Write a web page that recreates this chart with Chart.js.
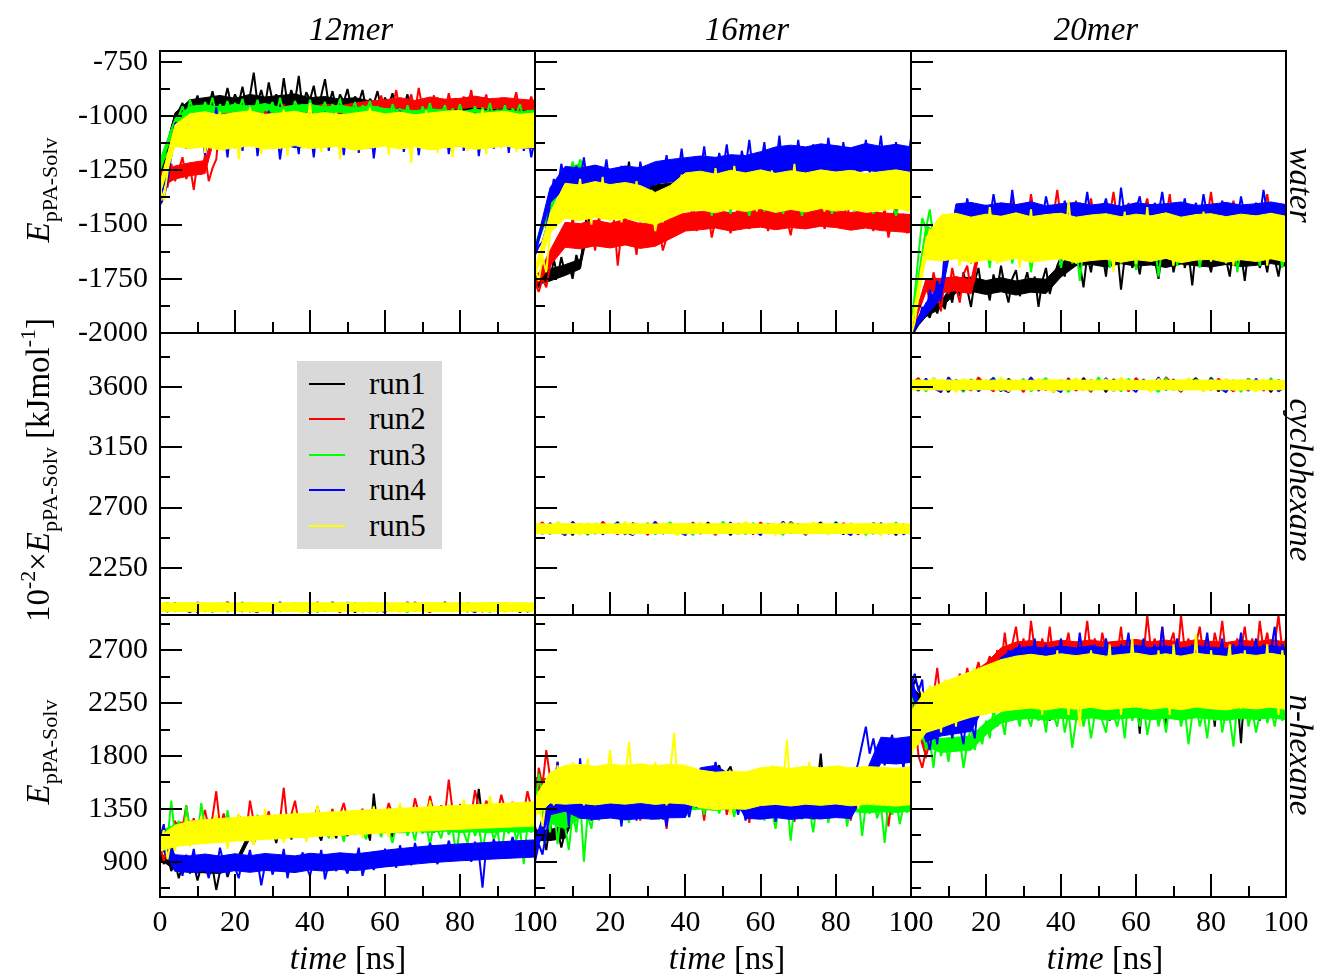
<!DOCTYPE html>
<html>
<head>
<meta charset="utf-8">
<title>pPA–solvent interaction energy</title>
<script src="https://cdn.jsdelivr.net/npm/chart.js@4.4.1/dist/chart.umd.min.js"></script>
<style>
  html, body { margin: 0; padding: 0; background: #fff; }
  #wrap { position: relative; width: 1323px; height: 976px; overflow: hidden;
          font-family: "Liberation Serif", "Times New Roman", serif; color: #000; }
  #wrap canvas { position: absolute; left: 0; top: 0; }
  .txt { position: absolute; white-space: nowrap; line-height: 1; font-size: 33px;
         transform: translate(-50%, -50%); }
  .it { font-style: italic; }
  .up { transform: translate(-50%, -50%) rotate(-90deg); }
  .down { transform: translate(-50%, -50%) rotate(90deg); }
  .sb { font-size: 22px; position: relative; top: 8px; }
  .sp { font-size: 22px; position: relative; top: -14px; }
  #legend { position: absolute; left: 297px; top: 361px; width: 145px; height: 188px;
            background: #d9d9d9; }
  #legend .row { position: absolute; left: 0; height: 36px; width: 145px; }
  #legend .key { position: absolute; left: 12px; top: 17px; width: 36px; height: 2px; }
  #legend .name { position: absolute; left: 72px; top: 0; font-size: 31px; line-height: 36px; }
</style>
</head>
<body>
<div id="wrap"></div>
<script>
// ---- labels and axes ----
const runNames = ['run1', 'run2', 'run3', 'run4', 'run5'];
const runColors = ['#000000', '#ff0000', '#00ff00', '#0000ff', '#ffff00'];
const oligomers = ['12mer', '16mer', '20mer'];
const solvents = ['water', 'cyclohexane', 'n-hexane'];
const timeTicks = [0, 20, 40, 60, 80, 100];
const waterTicks = [-2000, -1750, -1500, -1250, -1000, -750];
const cyclohexaneTicks = [2250, 2700, 3150, 3600];
const hexaneTicks = [900, 1350, 1800, 2250, 2700];
const waterRange = [-2000, -700];
const cyclohexaneRange = [1900, 4000];
const hexaneRange = [600, 3000];
const bandStepNs = 4;   // spacing of the fluctuation-band arrays (lo/hi)

// ---- water, E(pPA-Solv) in kJ/mol, sampled every 1 ns ----
const water12_run1 = [-1310,-1230,-1140,-1060,-1000,-975,-940,-985,-925,-960,
 -905,-970,-930,-955,-885,-960,-915,-945,-870,-950,
 -900,-940,-865,-955,-905,-800,-940,-880,-950,-845,
 -930,-900,-960,-825,-945,-880,-935,-815,-960,-890,
 -925,-860,-955,-905,-830,-950,-885,-965,-900,-935,
 -875,-960,-910,-940,-880,-970,-920,-945,-885,-965,
 -915,-950,-895,-975,-930,-955,-900,-980,-935,-960,
 -925,-990,-945,-965,-915,-985,-950,-970,-930,-995,
 -955,-975,-925,-1000,-950,-970,-935,-990,-955,-965,
 -940,-1005,-960,-980,-945,-995,-965,-985,-950,-1010,-975];
const water12_run2 = [-1360,-1280,-1330,-1220,-1300,-1250,-1190,-1290,-1230,-1340,
 -1210,-1270,-1180,-1300,-1240,-1200,-1020,-960,-1030,-975,
 -1005,-950,-1040,-985,-960,-1020,-945,-1000,-975,-1035,
 -955,-1010,-980,-945,-1025,-970,-1000,-950,-1030,-965,
 -990,-955,-1020,-975,-945,-1010,-980,-1000,-950,-1025,
 -960,-995,-940,-1015,-970,-990,-935,-1000,-960,-905,
 -985,-930,-960,-880,-990,-925,-955,-900,-980,-870,
 -965,-920,-995,-905,-950,-935,-985,-895,-970,-940,
 -990,-910,-960,-880,-985,-930,-965,-900,-995,-940,
 -960,-915,-985,-925,-955,-890,-990,-935,-965,-910,-975];
const water12_run3 = [-1250,-1200,-1170,-1190,-1080,-1000,-955,-1010,-925,-985,
 -950,-1005,-935,-975,-915,-995,-945,-980,-930,-1010,
 -940,-975,-920,-1000,-955,-985,-925,-1005,-950,-970,
 -935,-995,-915,-985,-960,-1000,-930,-975,-945,-1010,
 -925,-990,-955,-970,-935,-1005,-945,-980,-920,-995,
 -960,-985,-935,-1010,-950,-975,-930,-1000,-955,-990,
 -970,-1015,-945,-995,-965,-1020,-950,-1005,-975,-1030,
 -955,-1000,-940,-1015,-970,-990,-950,-1025,-965,-1005,
 -945,-1010,-975,-995,-955,-1030,-960,-1000,-940,-1020,
 -970,-1005,-950,-1025,-965,-990,-945,-1015,-975,-1000,-985];
const water12_run4 = [-1410,-1380,-1300,-1180,-1040,-1110,-1020,-1150,-1060,-990,
 -1120,-1040,-1180,-1010,-1095,-960,-1140,-1050,-1190,-1030,
 -1100,-985,-1160,-1045,-1120,-1000,-1185,-1060,-1110,-975,
 -1150,-1035,-1200,-1070,-1010,-1140,-1055,-1175,-995,-1115,
 -1050,-1190,-1030,-1130,-980,-1160,-1065,-1105,-1010,-1180,
 -1045,-1125,-990,-1170,-1055,-1100,-1020,-1195,-1060,-1135,
 -1005,-1150,-1040,-1110,-975,-1165,-1075,-1120,-1025,-1180,
 -1050,-1100,-995,-1155,-1035,-1130,-1010,-1175,-1065,-1115,
 -1000,-1160,-1045,-1125,-985,-1185,-1055,-1105,-1020,-1150,
 -1060,-1120,-1005,-1170,-1040,-1135,-1015,-1160,-1070,-1190,-1100];
const water12_run5 = [-1330,-1390,-1260,-1140,-1100,-1030,-1120,-1000,-1150,-1040,
 -1110,-990,-1170,-1020,-1130,-1060,-980,-1160,-1045,-1105,
 -1000,-1200,-1050,-1125,-960,-1090,-1015,-1175,-1035,-1140,
 -995,-1115,-1060,-970,-1185,-1030,-1120,-1005,-1150,-1070,
 -940,-1110,-1025,-1165,-1000,-1135,-1055,-985,-1200,-1040,
 -1100,-990,-1155,-1030,-1120,-1065,-960,-1140,-1015,-1095,
 -1005,-1180,-1045,-1125,-980,-1150,-1035,-1215,-1010,-1110,
 -1060,-975,-1145,-1020,-1170,-1040,-1100,-995,-1190,-1050,
 -1125,-985,-1160,-1025,-1105,-1065,-970,-1175,-1030,-1135,
 -1000,-1150,-1045,-1115,-990,-1165,-1020,-1130,-1055,-1010,-1120];

const water16_run1 = [-1720,-1790,-1740,-1700,-1760,-1660,-1740,-1650,-1730,-1680,
 -1750,-1640,-1700,-1560,-1420,-1330,-1400,-1290,-1370,-1310,
 -1420,-1340,-1280,-1390,-1320,-1210,-1360,-1290,-1430,-1330,
 -1270,-1470,-1350,-1300,-1390,-1320,-1400,-1280,-1360,-1230,
 -1380,-1310,-1420,-1340,-1290,-1390,-1330,-1270,-1410,-1350,
 -1300,-1370,-1250,-1330,-1390,-1290,-1240,-1350,-1310,-1400,
 -1330,-1280,-1380,-1320,-1420,-1300,-1360,-1260,-1340,-1290,
 -1390,-1330,-1280,-1370,-1310,-1250,-1350,-1300,-1470,-1340,
 -1290,-1380,-1320,-1270,-1360,-1305,-1400,-1330,-1280,-1350,
 -1300,-1390,-1320,-1270,-1360,-1310,-1240,-1340,-1300,-1370,-1320];
const water16_run2 = [-1770,-1810,-1750,-1790,-1690,-1640,-1560,-1620,-1500,-1590,
 -1470,-1560,-1610,-1490,-1580,-1520,-1620,-1460,-1570,-1510,
 -1600,-1480,-1690,-1530,-1450,-1590,-1520,-1640,-1490,-1560,
 -1600,-1470,-1580,-1510,-1620,-1560,-1450,-1500,-1430,-1520,
 -1460,-1490,-1410,-1530,-1470,-1500,-1440,-1560,-1480,-1420,
 -1510,-1460,-1540,-1470,-1430,-1500,-1450,-1520,-1480,-1410,
 -1500,-1460,-1530,-1440,-1490,-1420,-1510,-1470,-1550,-1450,
 -1490,-1420,-1510,-1460,-1400,-1480,-1440,-1520,-1460,-1410,
 -1490,-1430,-1470,-1400,-1510,-1450,-1480,-1420,-1500,-1460,
 -1530,-1440,-1490,-1430,-1560,-1470,-1420,-1500,-1450,-1540,-1480];
const water16_run3 = [-1620,-1560,-1500,-1470,-1420,-1380,-1330,-1300,-1250,-1290,
 -1210,-1270,-1200,-1240,-1310,-1360,-1420,-1340,-1400,-1310,
 -1440,-1370,-1330,-1410,-1350,-1450,-1380,-1320,-1420,-1360,
 -1430,-1340,-1400,-1460,-1370,-1420,-1330,-1390,-1450,-1360,
 -1410,-1350,-1440,-1380,-1330,-1420,-1370,-1460,-1390,-1340,
 -1410,-1370,-1450,-1360,-1420,-1330,-1400,-1460,-1380,-1420,
 -1350,-1440,-1390,-1320,-1410,-1370,-1450,-1390,-1340,-1420,
 -1380,-1460,-1400,-1350,-1430,-1370,-1420,-1330,-1400,-1450,
 -1380,-1430,-1360,-1410,-1340,-1440,-1390,-1350,-1420,-1380,
 -1450,-1370,-1410,-1340,-1430,-1390,-1460,-1400,-1350,-1420,-1390];
const water16_run4 = [-1640,-1600,-1580,-1520,-1400,-1290,-1340,-1220,-1310,-1260,
 -1350,-1230,-1300,-1190,-1320,-1270,-1340,-1240,-1310,-1200,
 -1330,-1260,-1350,-1230,-1290,-1330,-1250,-1360,-1210,-1300,
 -1370,-1260,-1320,-1220,-1280,-1180,-1300,-1240,-1270,-1150,
 -1290,-1220,-1310,-1200,-1260,-1140,-1280,-1210,-1300,-1170,
 -1250,-1130,-1270,-1200,-1290,-1160,-1240,-1110,-1260,-1190,
 -1230,-1120,-1280,-1170,-1240,-1090,-1270,-1200,-1150,-1250,
 -1110,-1230,-1180,-1290,-1130,-1220,-1160,-1260,-1100,-1210,
 -1170,-1280,-1120,-1240,-1190,-1300,-1140,-1230,-1110,-1260,
 -1170,-1220,-1090,-1250,-1150,-1290,-1120,-1200,-1160,-1240,-1100];
const water16_run5 = [-1700,-1760,-1650,-1720,-1540,-1420,-1480,-1350,-1450,-1320,
 -1470,-1380,-1290,-1440,-1360,-1500,-1330,-1410,-1280,-1460,
 -1370,-1430,-1310,-1490,-1390,-1340,-1460,-1300,-1420,-1370,
 -1480,-1400,-1530,-1430,-1490,-1360,-1440,-1320,-1400,-1270,
 -1380,-1310,-1420,-1260,-1350,-1430,-1300,-1390,-1240,-1360,
 -1420,-1290,-1370,-1230,-1340,-1410,-1280,-1380,-1310,-1440,
 -1270,-1350,-1400,-1250,-1370,-1320,-1430,-1280,-1360,-1220,
 -1390,-1300,-1420,-1340,-1260,-1380,-1310,-1440,-1290,-1350,
 -1410,-1270,-1370,-1320,-1430,-1250,-1360,-1300,-1400,-1340,
 -1280,-1420,-1330,-1380,-1260,-1350,-1410,-1300,-1370,-1440,-1330];

const water20_run1 = [-2010,-1990,-1960,-1940,-1900,-1930,-1870,-1910,-1840,-1890,
 -1800,-1860,-1750,-1830,-1720,-1800,-1880,-1760,-1700,-1820,
 -1770,-1850,-1730,-1800,-1690,-1790,-1860,-1750,-1710,-1830,
 -1780,-1720,-1810,-1740,-1880,-1760,-1700,-1820,-1750,-1690,
 -1650,-1740,-1620,-1700,-1580,-1680,-1790,-1640,-1720,-1600,
 -1690,-1630,-1740,-1580,-1670,-1620,-1800,-1650,-1590,-1700,
 -1640,-1730,-1610,-1680,-1560,-1660,-1750,-1620,-1690,-1600,
 -1720,-1640,-1580,-1700,-1630,-1780,-1610,-1680,-1570,-1650,
 -1720,-1620,-1690,-1590,-1660,-1740,-1600,-1680,-1630,-1760,
 -1610,-1670,-1580,-1700,-1640,-1720,-1600,-1660,-1740,-1630,-1680];
const water20_run2 = [-2010,-1960,-1880,-1830,-1780,-1850,-1720,-1800,-1900,-1740,
 -1820,-1700,-1790,-1860,-1730,-1690,-1810,-1750,-1540,-1470,
 -1520,-1430,-1500,-1400,-1480,-1530,-1450,-1380,-1510,-1460,
 -1420,-1490,-1360,-1470,-1530,-1440,-1500,-1410,-1460,-1340,
 -1480,-1420,-1510,-1450,-1390,-1500,-1430,-1470,-1380,-1490,
 -1440,-1520,-1410,-1460,-1350,-1480,-1430,-1500,-1400,-1470,
 -1420,-1510,-1440,-1380,-1490,-1450,-1530,-1420,-1470,-1360,
 -1500,-1440,-1480,-1400,-1460,-1520,-1430,-1490,-1410,-1470,
 -1350,-1480,-1440,-1500,-1420,-1460,-1390,-1490,-1450,-1510,
 -1430,-1470,-1400,-1490,-1440,-1360,-1480,-1420,-1500,-1450,-1470];
const water20_run3 = [-1990,-1820,-1640,-1470,-1520,-1430,-1560,-1480,-1600,-1520,
 -1650,-1540,-1600,-1480,-1620,-1550,-1680,-1570,-1510,-1640,
 -1580,-1700,-1560,-1620,-1500,-1610,-1540,-1680,-1590,-1530,
 -1650,-1560,-1720,-1600,-1540,-1660,-1580,-1510,-1640,-1570,
 -1700,-1600,-1550,-1680,-1590,-1760,-1610,-1540,-1660,-1580,
 -1520,-1640,-1570,-1700,-1600,-1530,-1680,-1590,-1620,-1550,
 -1710,-1580,-1640,-1520,-1660,-1590,-1740,-1600,-1550,-1650,
 -1580,-1690,-1560,-1620,-1510,-1640,-1570,-1700,-1600,-1540,
 -1670,-1590,-1630,-1530,-1680,-1600,-1550,-1720,-1610,-1570,
 -1650,-1540,-1600,-1690,-1580,-1630,-1520,-1660,-1590,-1700,-1610];
const water20_run4 = [-2010,-1980,-1950,-1880,-1920,-1800,-1870,-1760,-1840,-1620,
 -1500,-1450,-1520,-1420,-1490,-1380,-1470,-1530,-1430,-1500,
 -1410,-1480,-1360,-1460,-1510,-1420,-1490,-1340,-1470,-1430,
 -1500,-1400,-1460,-1520,-1410,-1480,-1370,-1450,-1500,-1420,
 -1470,-1390,-1490,-1430,-1510,-1400,-1460,-1350,-1480,-1420,
 -1500,-1440,-1380,-1470,-1420,-1510,-1330,-1460,-1410,-1490,
 -1430,-1370,-1480,-1420,-1500,-1400,-1450,-1350,-1470,-1430,
 -1510,-1410,-1460,-1380,-1490,-1440,-1400,-1480,-1360,-1460,
 -1500,-1420,-1470,-1390,-1450,-1510,-1410,-1480,-1370,-1460,
 -1430,-1490,-1400,-1470,-1340,-1450,-1500,-1420,-1480,-1410,-1460];
const water20_run5 = [-2010,-1950,-1830,-1700,-1620,-1520,-1640,-1480,-1600,-1530,
 -1660,-1450,-1580,-1690,-1510,-1620,-1470,-1570,-1650,-1500,
 -1610,-1420,-1560,-1680,-1530,-1600,-1460,-1640,-1550,-1700,
 -1490,-1580,-1430,-1620,-1540,-1670,-1500,-1590,-1450,-1640,
 -1520,-1610,-1390,-1560,-1680,-1510,-1630,-1470,-1590,-1540,
 -1660,-1480,-1600,-1530,-1720,-1500,-1570,-1440,-1620,-1550,
 -1680,-1490,-1600,-1420,-1580,-1650,-1510,-1610,-1460,-1570,
 -1690,-1530,-1620,-1480,-1560,-1640,-1500,-1590,-1440,-1600,
 -1670,-1520,-1580,-1460,-1630,-1550,-1690,-1490,-1600,-1530,
 -1650,-1470,-1580,-1620,-1510,-1690,-1540,-1600,-1460,-1630,-1560];

// ---- cyclohexane, 10^-2 x E(pPA-Solv), sampled every 2 ns ----
const cyclo12_run1 = [1955,1925,1990,1940,1975,1920,1985,1950,1930,1995,1945,1965,1925,1980,1950,1935,1990,1940,1970,1925,1985,1955,1930,1995,1945,1975,1920,1980,1960,1935,1990,1950,1925,1970,1945,1985,1930,1960,1995,1940,1975,1925,1985,1950,1935,1990,1945,1965,1920,1980,1955];
const cyclo12_run2 = [1960,1990,1935,1970,1920,1985,1945,1975,1930,1995,1950,1925,1980,1940,1965,1920,1990,1955,1935,1975,1945,1995,1930,1960,1920,1985,1950,1940,1975,1925,1990,1945,1965,1930,1995,1950,1920,1980,1940,1970,1935,1990,1955,1925,1975,1945,1985,1930,1965,1940,1960];
const cyclo12_run3 = [1945,1980,1925,1990,1950,1935,1975,1920,1985,1955,1940,1995,1930,1970,1945,1985,1925,1960,1990,1935,1975,1920,1980,1950,1930,1995,1945,1965,1925,1985,1940,1975,1955,1920,1990,1935,1970,1945,1980,1925,1995,1950,1935,1975,1920,1985,1955,1940,1990,1930,1965];
const cyclo12_run4 = [1970,1930,1985,1945,1920,1995,1950,1935,1980,1925,1965,1990,1940,1920,1975,1950,1995,1930,1965,1945,1920,1985,1955,1935,1975,1940,1990,1925,1970,1950,1920,1980,1945,1995,1930,1960,1925,1985,1950,1935,1990,1945,1920,1970,1955,1930,1985,1940,1975,1925,1950];
const cyclo12_run5 = [1950,1975,1930,1990,1945,1965,1920,1985,1955,1935,1980,1940,1995,1925,1970,1950,1935,1985,1945,1920,1975,1955,1990,1930,1965,1945,1980,1925,1995,1950,1935,1970,1920,1985,1945,1960,1930,1990,1955,1925,1975,1940,1985,1930,1965,1950,1920,1980,1945,1970,1955];

const cyclo16_run1 = [2540,2505,2580,2520,2565,2495,2575,2530,2510,2590,2525,2555,2500,2585,2535,2515,2580,2520,2560,2500,2575,2545,2510,2590,2530,2570,2495,2580,2550,2515,2585,2535,2505,2565,2525,2580,2510,2550,2590,2520,2570,2500,2580,2540,2515,2585,2530,2560,2495,2575,2540];
const cyclo16_run2 = [2545,2590,2515,2565,2495,2580,2530,2570,2505,2595,2540,2500,2575,2520,2560,2495,2590,2545,2510,2570,2525,2590,2505,2550,2495,2585,2540,2515,2575,2500,2590,2530,2560,2510,2595,2545,2495,2580,2520,2565,2510,2585,2545,2500,2570,2525,2580,2505,2560,2520,2550];
const cyclo16_run3 = [2530,2575,2500,2590,2540,2510,2570,2495,2580,2545,2515,2595,2505,2565,2530,2585,2500,2555,2590,2510,2570,2495,2580,2540,2505,2595,2525,2560,2500,2585,2520,2570,2545,2495,2590,2510,2565,2530,2580,2500,2595,2540,2510,2575,2495,2585,2545,2520,2590,2505,2560];
const cyclo16_run4 = [2560,2510,2585,2525,2495,2595,2540,2505,2575,2500,2555,2590,2520,2495,2570,2535,2595,2505,2560,2525,2495,2580,2545,2510,2575,2520,2590,2500,2565,2540,2495,2580,2525,2595,2510,2555,2500,2585,2540,2515,2590,2530,2495,2570,2545,2505,2585,2520,2575,2500,2540];
const cyclo16_run5 = [2540,2570,2510,2590,2525,2560,2495,2585,2545,2515,2580,2520,2595,2500,2565,2540,2510,2585,2530,2495,2575,2545,2590,2505,2560,2530,2580,2500,2595,2540,2515,2570,2495,2585,2525,2555,2505,2590,2545,2500,2575,2520,2585,2510,2560,2540,2495,2580,2525,2570,2545];

const cyclo20_run1 = [3610,3570,3655,3585,3640,3560,3650,3600,3575,3665,3590,3625,3565,3660,3605,3580,3655,3585,3635,3560,3650,3615,3575,3665,3595,3645,3560,3655,3620,3580,3660,3600,3570,3640,3590,3655,3575,3620,3665,3585,3645,3565,3655,3610,3580,3660,3595,3630,3560,3650,3610];
const cyclo20_run2 = [3615,3665,3580,3640,3560,3655,3595,3645,3570,3670,3610,3565,3650,3585,3635,3560,3665,3615,3575,3645,3590,3665,3570,3620,3560,3660,3605,3580,3650,3565,3665,3595,3630,3575,3670,3615,3560,3655,3585,3640,3575,3660,3610,3565,3645,3590,3655,3570,3630,3585,3620];
const cyclo20_run3 = [3600,3650,3565,3665,3605,3575,3645,3560,3655,3615,3580,3670,3570,3635,3595,3660,3565,3625,3665,3575,3645,3560,3655,3605,3570,3670,3590,3630,3565,3660,3585,3645,3610,3560,3665,3575,3640,3595,3655,3565,3670,3605,3575,3650,3560,3660,3610,3585,3665,3570,3630];
const cyclo20_run4 = [3630,3575,3660,3590,3560,3670,3605,3570,3650,3565,3625,3665,3585,3560,3645,3600,3670,3570,3630,3590,3560,3655,3610,3575,3650,3585,3665,3565,3640,3605,3560,3655,3590,3670,3575,3625,3565,3660,3605,3580,3665,3595,3560,3645,3610,3570,3660,3585,3650,3565,3605];
const cyclo20_run5 = [3610,3645,3575,3665,3590,3635,3560,3660,3615,3580,3655,3585,3670,3565,3640,3605,3575,3660,3595,3560,3650,3615,3665,3570,3630,3600,3655,3565,3670,3605,3580,3645,3560,3660,3590,3625,3570,3665,3610,3565,3650,3585,3660,3575,3635,3610,3560,3655,3590,3645,3615];

// ---- n-hexane, E(pPA-Solv) in kJ/mol, sampled every 1 ns ----
const hexane12_run1 = [1010,880,960,820,900,760,870,930,800,880,
 740,860,910,780,850,660,820,900,770,860,
 830,920,1010,1080,1150,1050,1190,1100,1230,1120,
 1180,1060,1210,1140,1250,1090,1170,1230,1110,1200,
 1130,1260,1150,1080,1220,1140,1190,1100,1240,1160,
 1120,1210,1170,1250,1130,1200,1080,1480,1190,1140,
 1230,1170,1110,1260,1180,1220,1140,1270,1190,1230,
 1160,1290,1200,1150,1260,1210,1300,1170,1240,1190,
 1280,1220,1160,1300,1230,1520,1250,1190,1310,1240,
 1200,1290,1230,1330,1260,1210,1300,1250,1340,1270,1230];
const hexane12_run2 = [1050,900,1100,980,1250,1100,1180,1380,1150,1270,
 1120,1230,1340,1180,1280,1500,1200,1310,1160,1250,
 1190,1300,1220,1150,1420,1240,1170,1290,1210,1330,
 1180,1280,1250,1530,1210,1300,1420,1230,1280,1190,
 1310,1250,1370,1220,1290,1240,1350,1210,1300,1400,
 1260,1330,1210,1290,1350,1240,1310,1270,1230,1340,
 1280,1400,1300,1250,1370,1290,1330,1260,1440,1310,
 1350,1280,1460,1320,1290,1380,1300,1600,1340,1280,
 1390,1320,1360,1290,1510,1350,1300,1420,1330,1380,
 1310,1470,1350,1300,1410,1340,1390,1320,1500,1360,1330];
const hexane12_run3 = [1000,1150,1080,1420,1120,1250,1040,1380,1160,1230,
 1090,1400,1180,1060,1260,1130,1220,1080,1340,1150,
 1190,1100,1260,1140,1210,1060,1300,1170,1120,1240,
 1180,1090,1270,1150,1210,1110,1330,1160,1230,1080,
 1260,1170,1120,1240,1190,1100,1290,1150,1210,1070,
 1250,1180,1130,1230,1160,1090,1270,1140,1200,1110,
 1240,1170,1060,1220,1150,1280,1120,1200,1080,1260,
 1140,1210,1040,1230,1170,1100,1250,1130,1190,950,
 1210,1150,1060,1240,1120,1200,1000,1180,1230,1090,
 1170,930,1210,1140,1260,1080,1190,880,1220,1150,1200];
const hexane12_run4 = [1100,1220,950,1130,820,900,780,960,850,1010,
 800,920,870,760,950,830,1020,880,790,940,
 850,760,930,880,1000,820,910,700,870,960,
 790,900,840,1010,760,930,870,820,980,860,
 780,920,850,1000,750,890,940,820,960,870,
 800,930,860,1020,780,900,950,830,990,870,
 1010,890,960,850,1040,910,980,870,1060,930,
 990,900,1060,960,880,1020,940,1080,970,910,
 1040,950,1000,900,1070,980,680,1030,960,1090,
 1000,940,1060,980,1110,1010,950,1080,1000,1040,1060];
const hexane12_run5 = [1020,1170,920,1100,990,1210,1060,1280,1030,1180,
 1100,1290,1050,1220,1140,1300,1070,1240,1010,1200,
 1130,1310,1080,1230,1160,1040,1270,1120,1350,1090,
 1230,1150,1300,1060,1250,1180,1330,1110,1240,1070,
 1290,1160,1380,1120,1260,1200,1090,1310,1170,1250,
 1130,1340,1190,1280,1100,1260,1220,1370,1160,1290,
 1210,1110,1330,1240,1400,1170,1280,1230,1350,1150,
 1300,1200,1420,1250,1170,1320,1270,1390,1190,1310,
 1240,1430,1280,1180,1350,1260,1330,1210,1460,1290,
 1230,1370,1300,1240,1410,1280,1350,1220,1390,1310,1340];

const hexane16_run1 = [1200,1080,1150,1000,1230,1090,1180,1020,1160,1300,
 1380,1480,1330,1550,1400,1470,1320,1520,1420,1360,
 1490,1400,1560,1350,1440,1510,1380,1470,1300,1450,
 1530,1410,1370,1480,1260,1440,1500,1400,1460,1350,
 1420,1510,1380,1460,1550,1620,1700,1580,1680,1720,
 1600,1660,1710,1590,1500,1430,1520,1380,1470,1550,
 1420,1360,1490,1440,1300,1460,1530,1410,1480,1370,
 1450,1560,1400,1470,1350,1510,1820,1440,1490,1380,
 1460,1530,1410,1470,1360,1500,1440,1550,1420,1480,
 1390,1510,1450,1530,1400,1470,1560,1430,1500,1450,1480];
const hexane16_run2 = [1350,1700,1550,1850,1620,1480,1750,1400,1580,1300,
 1520,1430,1650,1370,1500,1280,1560,1420,1480,1350,
 1540,1460,1300,1510,1420,1580,1380,1460,1250,1490,
 1400,1550,1330,1470,1420,1180,1500,1380,1450,1320,
 1480,1400,1540,1360,1460,1250,1510,1420,1470,1380,
 1530,1300,1450,1410,1550,1360,1480,1230,1500,1420,
 1460,1340,1520,1390,1470,1300,1550,1410,1480,1240,
 1500,1380,1460,1320,1510,1420,1560,1350,1470,1400,
 1520,1300,1480,1410,1250,1500,1430,1540,1370,1470,
 1420,1510,1350,1480,1200,1460,1400,1530,1380,1450,1420];
const hexane16_run3 = [1300,1650,1450,1600,1150,1400,1050,1350,1200,1000,
 1320,1150,1450,900,1300,1180,1420,1250,1500,1330,
 1450,1280,1520,1360,1420,1230,1480,1350,1400,1280,
 1470,1320,1420,1260,1500,1380,1440,1300,1460,1350,
 1410,1280,1480,1360,1430,1300,1500,1370,1440,1310,
 1470,1390,1420,1280,1480,1350,1430,1290,1460,1360,
 1400,1250,1470,1330,1180,1420,1300,1450,1080,1380,
 1420,1260,1460,1350,1150,1410,1300,1450,1230,1380,
 1430,1280,1470,1200,1400,1330,1460,1120,1390,1310,
 1440,1270,1380,1060,1410,1300,1450,1220,1370,1320,1400];
const hexane16_run4 = [900,1050,960,1150,1300,1500,1750,1350,1600,1200,
 1700,1300,1780,1420,1650,1250,1550,1380,1480,1300,
 1560,1350,1450,1200,1520,1330,1460,1250,1500,1380,
 1420,1260,1480,1320,1400,1200,1460,1300,1420,1350,
 1500,1280,1440,1360,1560,1400,1700,1580,1750,1620,
 1680,1520,1620,1450,1300,1420,1250,1400,1320,1460,
 1280,1430,1350,1480,1240,1420,1310,1460,1280,1400,
 1340,1470,1300,1420,1260,1450,1380,1500,1300,1440,
 1360,1480,1420,1550,1480,1620,1750,1900,2050,1820,
 1950,1760,1900,1720,1880,1980,1750,1860,1700,1920,1800];
const hexane16_run5 = [1250,1500,1200,1450,1650,1380,1720,1480,1600,1420,
 1750,1500,1650,1380,1780,1550,1450,1700,1400,1620,
 1850,1480,1680,1420,1580,1920,1500,1640,1400,1700,
 1550,1460,1750,1500,1620,1380,1680,2000,1520,1600,
 1450,1700,1560,1400,1650,1480,1590,1360,1620,1500,
 1420,1560,1300,1520,1450,1600,1380,1540,1470,1680,
 1420,1580,1500,1720,1400,1620,1550,1940,1460,1640,
 1380,1580,1500,1750,1440,1620,1520,1680,1400,1600,
 1480,1720,1430,1580,1510,1660,1350,1620,1480,1700,
 1420,1560,1500,1650,1380,1600,1460,1640,1400,1580,1500];

const hexane20_run1 = [2300,2450,2380,2250,2150,2050,2200,2000,2300,2150,
 2250,2080,2350,2200,2300,2150,2400,2250,2320,2180,
 2450,2280,2350,2200,2500,2300,2420,2250,2380,2150,
 2450,2300,2500,2200,2400,2280,2350,2100,2420,2250,
 2380,2200,2480,2300,2350,2150,2450,2280,2400,2220,
 2500,2300,2380,2100,2450,2260,2400,2200,2500,2320,
 2380,1990,2450,2280,2400,2200,2480,2300,2050,2380,
 2250,2450,2300,2150,2420,2280,2380,2200,2480,2320,
 2400,2050,2450,2270,2380,2180,2480,2300,1910,2400,
 2260,2450,2300,2100,2420,2280,2380,2200,2460,2300,2350];
const hexane20_run2 = [2300,2150,1800,1700,1850,2100,2300,2550,2250,2400,
 2200,2450,2300,2500,2350,2550,2400,2480,2600,2450,
 2550,2650,2480,2700,2550,2850,2600,2750,2900,2650,
 2800,2600,2950,2700,2550,2800,2650,2900,2600,2750,
 2550,2700,2850,2600,2750,2550,2700,2950,2650,2800,
 2600,2850,2700,2550,2750,2650,2900,2600,2800,2700,
 2550,2750,2650,3000,2700,2800,2600,2900,2650,2750,
 2850,2600,3000,2700,2800,2550,2750,2900,2650,2800,
 2600,2850,2700,2950,2650,2750,2550,2800,2700,2900,
 2650,2800,2600,2950,2700,2850,2650,2750,3000,2700,2800];
const hexane20_run3 = [2200,2350,2000,2100,1850,1950,1700,2000,1800,1950,
 1750,2000,1850,1950,1700,1900,2050,1850,2000,1900,
 2100,1950,2200,2050,2150,1980,2250,2100,2200,2050,
 2300,2150,2050,2250,2100,2200,2000,2280,2150,2050,
 2250,2000,2180,1870,2100,2250,2050,2200,1950,2150,
 2300,2100,2000,2250,2150,2050,2200,1950,2300,2100,
 2200,2050,2250,1980,2150,2300,2050,2200,2000,2250,
 2120,2300,2050,2200,1900,2150,2250,2050,2180,1950,
 2250,2100,2300,2000,2200,2120,1880,2250,2100,2300,
 2050,2200,2000,2150,2300,2080,2200,2050,2250,2100,2200];
const hexane20_run4 = [2400,2500,2350,2450,2000,1850,2100,1900,2200,2050,
 2150,1950,2250,2050,1900,2200,2100,1950,2300,2150,
 2400,2250,2550,2350,2600,2450,2700,2500,2650,2750,
 2500,2700,2550,2800,2450,2650,2750,2550,2700,2600,
 2800,2500,2650,2700,2550,2850,2600,2700,2500,2750,
 2650,2550,2800,2600,2700,2450,2750,2650,2850,2550,
 2700,2600,2800,2500,2650,2750,2600,2900,2550,2700,
 2650,2800,2550,2700,2600,2750,2500,2700,2650,2850,
 2550,2700,2600,2800,2500,2650,2750,2600,2850,2550,
 2700,2650,2800,2500,2750,2600,2700,2900,2550,2750,2650];
const hexane20_run5 = [1700,2200,1900,2350,2050,2400,2150,2300,2000,2450,
 2150,2350,2050,2450,2200,2400,2150,2550,2250,2400,
 2150,2500,2300,2450,2200,2600,2350,2250,2650,2300,
 2500,2200,2600,2350,2550,2150,2650,2400,2250,2700,
 2350,2550,2150,2650,2400,2050,2600,2300,2700,2400,
 2200,2600,2450,2750,2300,2550,2150,2650,2400,2800,
 2350,2550,2200,2650,2450,2300,2700,2400,2600,2150,
 2750,2450,2550,2250,2650,2400,2840,2350,2600,2200,
 2700,2450,2300,2650,2500,2750,2350,2600,2200,2700,
 2450,2550,2250,2650,2400,2750,2300,2600,2150,2700,2450];

// ---- dense fluctuation band of each run (lower / upper edge), every 4 ns, run1..run5 ----
const water12_lo = [
 [-1320,-1020,-965,-958,-952,-960,-948,-962,-955,-950,-962,-958,-968,-960,-972,-978,-970,-982,-975,-986,-978,-990,-982,-988,-992,-985],
 [-1330,-1290,-1275,-1265,-1010,-1000,-1008,-995,-1004,-992,-1000,-990,-996,-985,-978,-972,-965,-975,-962,-970,-966,-958,-968,-962,-970,-975],
 [-1240,-1050,-985,-980,-988,-978,-985,-975,-990,-982,-978,-990,-982,-992,-985,-995,-1000,-1006,-998,-1004,-1010,-1000,-1008,-1002,-1010,-1004],
 [-1400,-1100,-1135,-1142,-1130,-1146,-1134,-1140,-1128,-1146,-1136,-1142,-1130,-1140,-1148,-1132,-1142,-1136,-1128,-1146,-1138,-1132,-1144,-1136,-1146,-1150],
 [-1360,-1140,-1150,-1142,-1156,-1146,-1138,-1152,-1148,-1136,-1150,-1144,-1140,-1158,-1148,-1138,-1152,-1142,-1156,-1146,-1140,-1154,-1146,-1138,-1150,-1144]];
const water12_hi = [
 [-1250,-985,-925,-915,-905,-918,-900,-912,-905,-898,-915,-910,-922,-915,-930,-935,-925,-940,-932,-945,-935,-948,-940,-945,-950,-942],
 [-1260,-1230,-1215,-1205,-965,-958,-965,-950,-960,-948,-956,-945,-952,-940,-930,-925,-915,-928,-912,-922,-918,-908,-920,-915,-922,-928],
 [-1200,-1010,-955,-948,-958,-945,-955,-942,-960,-950,-946,-958,-950,-962,-952,-965,-970,-975,-966,-972,-980,-968,-978,-970,-980,-972],
 [-1370,-1030,-1035,-1030,-1042,-1028,-1038,-1030,-1044,-1032,-1028,-1040,-1034,-1045,-1036,-1030,-1042,-1034,-1040,-1028,-1036,-1032,-1042,-1038,-1030,-1045],
 [-1310,-1040,-990,-980,-996,-984,-976,-992,-986,-978,-992,-984,-994,-986,-976,-990,-982,-994,-986,-978,-974,-990,-984,-978,-992,-986]];

const water16_lo = [
 [-1780,-1760,-1735,-1705,-1380,-1372,-1385,-1366,-1378,-1370,-1382,-1364,-1376,-1368,-1380,-1372,-1365,-1378,-1368,-1374,-1380,-1366,-1376,-1370,-1364,-1375],
 [-1790,-1690,-1605,-1612,-1598,-1608,-1594,-1610,-1600,-1565,-1530,-1524,-1516,-1530,-1518,-1512,-1524,-1514,-1520,-1508,-1514,-1526,-1516,-1528,-1532,-1538],
 [-1620,-1440,-1290,-1265,-1405,-1412,-1400,-1414,-1406,-1398,-1412,-1404,-1416,-1400,-1408,-1414,-1402,-1410,-1404,-1398,-1412,-1406,-1416,-1402,-1408,-1410],
 [-1640,-1400,-1335,-1342,-1330,-1346,-1334,-1340,-1312,-1304,-1298,-1290,-1296,-1284,-1288,-1274,-1262,-1256,-1262,-1250,-1256,-1264,-1250,-1258,-1252,-1260],
 [-1740,-1540,-1470,-1482,-1466,-1480,-1470,-1486,-1500,-1470,-1440,-1432,-1446,-1428,-1440,-1426,-1444,-1430,-1442,-1426,-1438,-1430,-1444,-1436,-1426,-1440]];
const water16_hi = [
 [-1730,-1705,-1685,-1660,-1320,-1310,-1325,-1305,-1318,-1308,-1322,-1300,-1315,-1306,-1320,-1310,-1302,-1318,-1306,-1314,-1322,-1304,-1316,-1310,-1300,-1315],
 [-1760,-1620,-1490,-1496,-1480,-1494,-1476,-1496,-1486,-1460,-1448,-1440,-1434,-1446,-1436,-1430,-1442,-1432,-1440,-1426,-1434,-1444,-1436,-1446,-1450,-1454],
 [-1590,-1390,-1240,-1220,-1355,-1362,-1348,-1364,-1356,-1348,-1362,-1352,-1366,-1350,-1358,-1364,-1350,-1360,-1354,-1346,-1362,-1356,-1366,-1350,-1358,-1360],
 [-1610,-1330,-1232,-1240,-1226,-1244,-1230,-1238,-1210,-1200,-1192,-1184,-1190,-1178,-1182,-1164,-1142,-1134,-1142,-1128,-1136,-1146,-1126,-1140,-1130,-1142],
 [-1700,-1450,-1310,-1318,-1302,-1316,-1306,-1320,-1352,-1320,-1262,-1254,-1268,-1250,-1262,-1248,-1264,-1252,-1262,-1248,-1258,-1250,-1266,-1256,-1248,-1260]];

const water20_lo = [
 [-2000,-1925,-1885,-1815,-1808,-1822,-1810,-1825,-1812,-1818,-1742,-1690,-1684,-1696,-1680,-1692,-1686,-1698,-1682,-1690,-1696,-1684,-1694,-1688,-1680,-1692],
 [-2000,-1810,-1815,-1805,-1820,-1490,-1482,-1496,-1485,-1492,-1480,-1494,-1486,-1498,-1484,-1490,-1496,-1482,-1492,-1488,-1480,-1494,-1486,-1496,-1484,-1490],
 [-1980,-1555,-1620,-1628,-1615,-1630,-1618,-1626,-1612,-1632,-1620,-1626,-1614,-1630,-1622,-1616,-1628,-1620,-1632,-1614,-1624,-1630,-1618,-1626,-1620,-1628],
 [-2000,-1920,-1840,-1488,-1480,-1494,-1484,-1490,-1478,-1496,-1486,-1480,-1492,-1484,-1496,-1482,-1490,-1486,-1478,-1494,-1488,-1482,-1492,-1486,-1480,-1490],
 [-1995,-1660,-1668,-1658,-1676,-1662,-1670,-1656,-1674,-1664,-1658,-1676,-1666,-1660,-1674,-1662,-1670,-1656,-1676,-1664,-1660,-1674,-1662,-1670,-1658,-1672]];
const water20_hi = [
 [-1980,-1890,-1855,-1750,-1742,-1758,-1745,-1760,-1748,-1752,-1680,-1620,-1612,-1628,-1610,-1624,-1616,-1630,-1612,-1622,-1628,-1614,-1626,-1618,-1610,-1624],
 [-1980,-1750,-1748,-1740,-1755,-1445,-1436,-1450,-1440,-1448,-1434,-1448,-1440,-1452,-1438,-1446,-1450,-1436,-1446,-1442,-1434,-1448,-1440,-1450,-1438,-1446],
 [-1960,-1500,-1560,-1568,-1555,-1570,-1558,-1566,-1552,-1572,-1560,-1566,-1554,-1570,-1562,-1556,-1568,-1560,-1572,-1554,-1564,-1570,-1558,-1566,-1560,-1568],
 [-1985,-1860,-1770,-1405,-1398,-1412,-1400,-1408,-1395,-1414,-1404,-1398,-1410,-1402,-1416,-1400,-1408,-1404,-1396,-1412,-1406,-1398,-1410,-1404,-1396,-1408],
 [-1970,-1560,-1456,-1448,-1466,-1452,-1462,-1446,-1464,-1454,-1448,-1466,-1456,-1450,-1464,-1452,-1460,-1446,-1466,-1454,-1450,-1464,-1452,-1460,-1448,-1462]];

const cyclo12_lo = [
 [1936,1938,1935,1937,1936,1934,1938,1936,1935,1937,1936,1938,1935,1936,1937,1935,1938,1936,1934,1937,1936,1938,1935,1937,1936,1935],
 [1935,1937,1936,1938,1935,1936,1937,1934,1936,1938,1935,1937,1936,1935,1938,1936,1934,1937,1936,1938,1935,1936,1937,1935,1938,1936],
 [1937,1935,1938,1936,1934,1937,1936,1935,1938,1936,1937,1935,1936,1938,1934,1937,1936,1935,1938,1936,1937,1934,1936,1938,1935,1937],
 [1936,1934,1937,1935,1938,1936,1935,1937,1936,1934,1938,1936,1937,1935,1936,1938,1935,1937,1936,1934,1937,1936,1938,1935,1936,1937],
 [1926,1928,1925,1927,1926,1929,1925,1927,1928,1926,1925,1928,1926,1927,1925,1929,1926,1928,1925,1927,1926,1928,1925,1927,1926,1928]];
const cyclo12_hi = [
 [1980,1982,1979,1981,1980,1978,1982,1980,1979,1981,1980,1982,1979,1980,1981,1979,1982,1980,1978,1981,1980,1982,1979,1981,1980,1979],
 [1979,1981,1980,1982,1979,1980,1981,1978,1980,1982,1979,1981,1980,1979,1982,1980,1978,1981,1980,1982,1979,1980,1981,1979,1982,1980],
 [1981,1979,1982,1980,1978,1981,1980,1979,1982,1980,1981,1979,1980,1982,1978,1981,1980,1979,1982,1980,1981,1978,1980,1982,1979,1981],
 [1980,1978,1981,1979,1982,1980,1979,1981,1980,1978,1982,1980,1981,1979,1980,1982,1979,1981,1980,1978,1981,1980,1982,1979,1980,1981],
 [1992,1990,1993,1991,1992,1989,1993,1991,1990,1992,1993,1990,1992,1991,1993,1989,1992,1990,1993,1991,1992,1990,1993,1991,1992,1990]];

const cyclo16_lo = [
 [2516,2518,2515,2517,2516,2514,2518,2516,2515,2517,2516,2518,2515,2516,2517,2515,2518,2516,2514,2517,2516,2518,2515,2517,2516,2515],
 [2515,2517,2516,2518,2515,2516,2517,2514,2516,2518,2515,2517,2516,2515,2518,2516,2514,2517,2516,2518,2515,2516,2517,2515,2518,2516],
 [2517,2515,2518,2516,2514,2517,2516,2515,2518,2516,2517,2515,2516,2518,2514,2517,2516,2515,2518,2516,2517,2514,2516,2518,2515,2517],
 [2516,2514,2517,2515,2518,2516,2515,2517,2516,2514,2518,2516,2517,2515,2516,2518,2515,2517,2516,2514,2517,2516,2518,2515,2516,2517],
 [2506,2508,2505,2507,2506,2509,2505,2507,2508,2506,2505,2508,2506,2507,2505,2509,2506,2508,2505,2507,2506,2508,2505,2507,2506,2508]];
const cyclo16_hi = [
 [2568,2570,2567,2569,2568,2566,2570,2568,2567,2569,2568,2570,2567,2568,2569,2567,2570,2568,2566,2569,2568,2570,2567,2569,2568,2567],
 [2567,2569,2568,2570,2567,2568,2569,2566,2568,2570,2567,2569,2568,2567,2570,2568,2566,2569,2568,2570,2567,2568,2569,2567,2570,2568],
 [2569,2567,2570,2568,2566,2569,2568,2567,2570,2568,2569,2567,2568,2570,2566,2569,2568,2567,2570,2568,2569,2566,2568,2570,2567,2569],
 [2568,2566,2569,2567,2570,2568,2567,2569,2568,2566,2570,2568,2569,2567,2568,2570,2567,2569,2568,2566,2569,2568,2570,2567,2568,2569],
 [2580,2578,2581,2579,2580,2577,2581,2579,2578,2580,2581,2578,2580,2579,2581,2577,2580,2578,2581,2579,2580,2578,2581,2579,2580,2578]];

const cyclo20_lo = [
 [3586,3588,3585,3587,3586,3584,3588,3586,3585,3587,3586,3588,3585,3586,3587,3585,3588,3586,3584,3587,3586,3588,3585,3587,3586,3585],
 [3585,3587,3586,3588,3585,3586,3587,3584,3586,3588,3585,3587,3586,3585,3588,3586,3584,3587,3586,3588,3585,3586,3587,3585,3588,3586],
 [3587,3585,3588,3586,3584,3587,3586,3585,3588,3586,3587,3585,3586,3588,3584,3587,3586,3585,3588,3586,3587,3584,3586,3588,3585,3587],
 [3586,3584,3587,3585,3588,3586,3585,3587,3586,3584,3588,3586,3587,3585,3586,3588,3585,3587,3586,3584,3587,3586,3588,3585,3586,3587],
 [3576,3578,3575,3577,3576,3579,3575,3577,3578,3576,3575,3578,3576,3577,3575,3579,3576,3578,3575,3577,3576,3578,3575,3577,3576,3578]];
const cyclo20_hi = [
 [3638,3640,3637,3639,3638,3636,3640,3638,3637,3639,3638,3640,3637,3638,3639,3637,3640,3638,3636,3639,3638,3640,3637,3639,3638,3637],
 [3637,3639,3638,3640,3637,3638,3639,3636,3638,3640,3637,3639,3638,3637,3640,3638,3636,3639,3638,3640,3637,3638,3639,3637,3640,3638],
 [3639,3637,3640,3638,3636,3639,3638,3637,3640,3638,3639,3637,3638,3640,3636,3639,3638,3637,3640,3638,3639,3636,3638,3640,3637,3639],
 [3638,3636,3639,3637,3640,3638,3637,3639,3638,3636,3640,3638,3639,3637,3638,3640,3637,3639,3638,3636,3639,3638,3640,3637,3638,3639],
 [3650,3648,3651,3649,3650,3647,3651,3649,3648,3650,3651,3648,3650,3649,3651,3647,3650,3648,3651,3649,3650,3648,3651,3649,3650,3648]];

const hexane12_lo = [
 [920,830,815,805,800,845,1100,1130,1138,1128,1142,1135,1150,1144,1156,1150,1162,1158,1170,1164,1176,1170,1182,1178,1188,1184],
 [980,1150,1165,1178,1172,1190,1185,1200,1196,1212,1206,1220,1232,1226,1242,1238,1252,1248,1262,1258,1270,1266,1280,1276,1290,1286],
 [1060,1130,1140,1150,1138,1152,1144,1156,1140,1154,1146,1158,1142,1156,1148,1160,1146,1158,1150,1162,1148,1156,1146,1158,1150,1160],
 [1040,820,808,822,806,824,810,826,818,808,830,820,834,824,840,856,868,880,892,900,908,914,922,928,934,940],
 [990,1030,1045,1056,1064,1076,1080,1092,1096,1106,1110,1120,1124,1134,1138,1146,1152,1160,1164,1172,1176,1182,1188,1194,1198,1204]];
const hexane12_hi = [
 [970,890,880,870,860,900,1160,1195,1205,1192,1210,1200,1215,1208,1222,1215,1228,1222,1236,1230,1242,1236,1250,1244,1255,1250],
 [1060,1230,1245,1258,1250,1270,1262,1280,1274,1292,1284,1300,1312,1304,1322,1316,1332,1326,1342,1336,1350,1344,1360,1354,1370,1364],
 [1160,1215,1225,1235,1222,1238,1228,1242,1226,1240,1230,1244,1228,1242,1234,1246,1232,1244,1236,1248,1234,1242,1232,1244,1236,1246],
 [1170,960,950,966,948,968,952,970,960,950,972,962,976,966,982,998,1012,1024,1036,1044,1052,1058,1066,1072,1080,1086],
 [1120,1210,1245,1258,1268,1276,1284,1294,1300,1308,1314,1322,1328,1336,1342,1348,1354,1362,1368,1374,1380,1386,1392,1398,1404,1410]];

const hexane16_lo = [
 [1080,1080,1100,1400,1410,1398,1420,1405,1418,1408,1400,1580,1610,1500,1436,1428,1442,1430,1446,1434,1426,1440,1432,1446,1430,1440],
 [1500,1500,1420,1410,1402,1416,1404,1418,1406,1420,1410,1402,1416,1406,1420,1410,1400,1414,1406,1418,1408,1400,1414,1404,1418,1408],
 [1350,1230,1180,1270,1340,1352,1336,1350,1342,1356,1340,1348,1336,1350,1332,1322,1316,1328,1314,1326,1318,1330,1316,1326,1320,1330],
 [960,1300,1330,1270,1260,1272,1256,1268,1262,1274,1276,1560,1600,1500,1270,1262,1276,1260,1272,1264,1276,1268,1500,1740,1732,1746],
 [1280,1400,1390,1398,1384,1400,1390,1404,1388,1400,1392,1360,1344,1352,1346,1378,1388,1374,1390,1380,1392,1376,1388,1382,1374,1386]];
const hexane16_hi = [
 [1170,1170,1220,1480,1490,1478,1500,1485,1498,1488,1480,1660,1685,1570,1506,1498,1512,1500,1516,1504,1496,1510,1502,1516,1500,1510],
 [1620,1600,1510,1500,1490,1506,1492,1508,1496,1510,1500,1490,1506,1494,1510,1500,1488,1504,1496,1508,1498,1488,1504,1494,1508,1498],
 [1460,1360,1320,1380,1430,1442,1426,1440,1432,1446,1430,1438,1424,1440,1420,1410,1404,1416,1402,1414,1406,1418,1404,1414,1408,1418],
 [1080,1480,1580,1480,1460,1472,1456,1468,1462,1474,1476,1700,1720,1640,1460,1452,1466,1450,1462,1454,1466,1458,1660,1960,1950,1966],
 [1440,1660,1720,1728,1712,1730,1718,1734,1716,1730,1720,1680,1662,1670,1664,1700,1710,1694,1712,1700,1714,1698,1710,1704,1694,1708]];

const hexane20_lo = [
 [2300,2140,2160,2185,2200,2218,2232,2240,2230,2246,2236,2250,2238,2252,2242,2236,2250,2240,2254,2236,2248,2240,2254,2244,2236,2250],
 [2220,1780,2280,2330,2400,2480,2580,2630,2640,2626,2644,2632,2646,2628,2640,2650,2632,2644,2630,2648,2636,2626,2644,2634,2648,2630],
 [2150,1880,1830,1840,1850,1980,2080,2110,2120,2104,2122,2108,2124,2106,2118,2128,2108,2122,2106,2126,2114,2104,2122,2110,2126,2108],
 [2360,1920,1970,1990,2010,2250,2450,2530,2540,2524,2544,2530,2546,2526,2538,2550,2530,2544,2526,2548,2534,2524,2544,2532,2548,2528],
 [1820,2000,2040,2090,2130,2160,2180,2196,2208,2192,2212,2198,2214,2194,2206,2218,2198,2212,2194,2216,2202,2192,2212,2200,2216,2196]];
const hexane20_hi = [
 [2400,2260,2280,2310,2330,2350,2360,2368,2358,2374,2364,2378,2366,2380,2370,2364,2378,2368,2382,2364,2376,2368,2382,2372,2364,2378],
 [2320,1860,2400,2450,2500,2590,2720,2770,2782,2766,2786,2772,2788,2768,2780,2792,2772,2786,2770,2790,2776,2766,2786,2774,2790,2770],
 [2260,1970,1950,1960,1970,2090,2170,2220,2232,2214,2234,2218,2236,2216,2228,2240,2218,2234,2216,2238,2224,2214,2234,2220,2238,2218],
 [2470,2080,2130,2160,2180,2440,2640,2720,2732,2716,2736,2720,2738,2718,2730,2742,2720,2736,2718,2740,2726,2716,2736,2724,2740,2720],
 [2180,2360,2420,2470,2520,2570,2620,2650,2666,2648,2670,2654,2672,2650,2664,2676,2654,2670,2650,2674,2660,2648,2670,2656,2674,2652]];

// ---- grid of panels: rows = solvents, columns = oligomer length ----
const panelRuns = [
  [[water12_run1, water12_run2, water12_run3, water12_run4, water12_run5],
   [water16_run1, water16_run2, water16_run3, water16_run4, water16_run5],
   [water20_run1, water20_run2, water20_run3, water20_run4, water20_run5]],
  [[cyclo12_run1, cyclo12_run2, cyclo12_run3, cyclo12_run4, cyclo12_run5],
   [cyclo16_run1, cyclo16_run2, cyclo16_run3, cyclo16_run4, cyclo16_run5],
   [cyclo20_run1, cyclo20_run2, cyclo20_run3, cyclo20_run4, cyclo20_run5]],
  [[hexane12_run1, hexane12_run2, hexane12_run3, hexane12_run4, hexane12_run5],
   [hexane16_run1, hexane16_run2, hexane16_run3, hexane16_run4, hexane16_run5],
   [hexane20_run1, hexane20_run2, hexane20_run3, hexane20_run4, hexane20_run5]]
];
const panelLo = [[water12_lo, water16_lo, water20_lo], [cyclo12_lo, cyclo16_lo, cyclo20_lo], [hexane12_lo, hexane16_lo, hexane20_lo]];
const panelHi = [[water12_hi, water16_hi, water20_hi], [cyclo12_hi, cyclo16_hi, cyclo20_hi], [hexane12_hi, hexane16_hi, hexane20_hi]];
const rowTicks = [waterTicks, cyclohexaneTicks, hexaneTicks];
const rowRanges = [waterRange, cyclohexaneRange, hexaneRange];

// page geometry of the panel frames
const W = 1323, H = 976;
const colEdges = [160, 535, 911, 1286];
const rowEdges = [51, 333, 615, 897];
const yAxisWidth = 100, xAxisHeight = 50;
const FONT = '"Liberation Serif", "Times New Roman", serif';

// inward major/minor ticks on the left and bottom edges plus the frame
const frameTicks = {
  id: 'frameTicks',
  afterDatasetsDraw(chart, args, o) {
    const { ctx, chartArea: a } = chart;
    const xs = chart.scales.x, ys = chart.scales.y;
    ctx.save();
    ctx.strokeStyle = '#000';
    ctx.lineWidth = 2;
    ctx.beginPath();
    const inY = v => v > ys.min && v < ys.max;
    const inX = v => v > xs.min && v < xs.max;
    const yStep = o.yMajor[1] - o.yMajor[0];
    for (let v = o.yMajor[0] - yStep; v <= ys.max; v += yStep / 2) {
      if (!inY(v)) continue;
      const major = Math.abs(((v - o.yMajor[0]) / yStep) % 1) < 1e-9;
      const p = Math.round(ys.getPixelForValue(v));
      ctx.moveTo(a.left, p);
      ctx.lineTo(a.left + (major ? 22 : 10), p);
    }
    const xStep = o.xMajor[1] - o.xMajor[0];
    for (let v = o.xMajor[0]; v <= xs.max; v += xStep / 2) {
      if (!inX(v)) continue;
      const major = Math.abs(((v - o.xMajor[0]) / xStep) % 1) < 1e-9;
      const p = Math.round(xs.getPixelForValue(v));
      ctx.moveTo(p, a.bottom);
      ctx.lineTo(p, a.bottom - (major ? 23 : 11));
    }
    ctx.stroke();
    ctx.strokeRect(a.left, a.top, a.right - a.left, a.bottom - a.top);
    ctx.restore();
  }
};

const toPoints = (vals, step) => vals.map((v, i) => ({ x: i * step, y: v }));
const wrap = document.getElementById('wrap');

for (let r = 0; r < 3; r++) {
  for (let c = 0; c < 3; c++) {
    const showY = c === 0, showX = r === 2;
    const canvas = document.createElement('canvas');
    canvas.width = W; canvas.height = H;
    canvas.style.width = W + 'px'; canvas.style.height = H + 'px';
    wrap.appendChild(canvas);

    const runs = panelRuns[r][c];
    const nRuns = runs.length;
    const datasets = [];
    runs.forEach((vals, k) => {
      const base = (nRuns - 1 - k) * 3;   // run1 drawn first, run5 on top
      const lo = panelLo[r][c][k], hi = panelHi[r][c][k];
      datasets.push({
        label: runNames[k] + ' band low',
        data: toPoints(lo, bandStepNs),
        borderColor: runColors[k], borderWidth: 1,
        pointRadius: 0, tension: 0, fill: false, order: base + 2
      });
      datasets.push({
        label: runNames[k] + ' band high',
        data: toPoints(hi, bandStepNs),
        borderColor: runColors[k], backgroundColor: runColors[k], borderWidth: 1,
        pointRadius: 0, tension: 0, fill: '-1', order: base + 1
      });
      datasets.push({
        label: runNames[k],
        data: toPoints(vals, 100 / (vals.length - 1)),
        borderColor: runColors[k], backgroundColor: runColors[k],
        borderWidth: 2, borderJoinStyle: 'bevel',
        pointRadius: 0, tension: 0, fill: false, order: base
      });
    });

    new Chart(canvas, {
      type: 'line',
      data: { datasets },
      options: {
        responsive: false,
        animation: false,
        devicePixelRatio: 1,
        events: [],
        layout: {
          autoPadding: false,
          padding: {
            left: colEdges[c] - (showY ? yAxisWidth : 0),
            right: W - colEdges[c + 1],
            top: rowEdges[r],
            bottom: H - rowEdges[r + 1] - (showX ? xAxisHeight : 0)
          }
        },
        plugins: {
          legend: { display: false },
          tooltip: { enabled: false },
          filler: { drawTime: 'beforeDatasetDraw' },
          frameTicks: { yMajor: rowTicks[r], xMajor: timeTicks }
        },
        scales: {
          x: {
            type: 'linear', min: 0, max: 100,
            afterBuildTicks: s => { s.ticks = timeTicks.map(v => ({ value: v })); },
            afterFit: s => { s.height = showX ? xAxisHeight : 0; },
            grid: { display: false, drawTicks: false },
            border: { display: false },
            ticks: { display: showX, autoSkip: false, maxRotation: 0, padding: 8, color: '#000',
                     font: { family: FONT, size: 30 }, callback: v => String(v) }
          },
          y: {
            type: 'linear', min: rowRanges[r][0], max: rowRanges[r][1],
            afterBuildTicks: s => { s.ticks = rowTicks[r].map(v => ({ value: v })); },
            afterFit: s => { s.width = showY ? yAxisWidth : 0; },
            grid: { display: false, drawTicks: false },
            border: { display: false },
            ticks: { display: showY, autoSkip: false, padding: 12, color: '#000',
                     font: { family: FONT, size: 30 }, callback: v => String(v) }
          }
        }
      },
      plugins: [frameTicks]
    });
  }
}

// ---- text around the grid ----
function addText(html, x, y, cls) {
  const d = document.createElement('div');
  d.className = 'txt ' + (cls || '');
  d.style.left = x + 'px';
  d.style.top = y + 'px';
  d.innerHTML = html;
  wrap.appendChild(d);
  return d;
}
const titleX = [351, 747, 1096];
oligomers.forEach((t, i) => addText(t, titleX[i], 29, 'it'));
const sideY = [185, 480, 755];
solvents.forEach((t, i) => addText(t, 1300, sideY[i], 'it down'));
const timeX = [348, 727, 1105];
timeX.forEach(x => addText('<span class="it">time</span> [ns]', x, 958));
addText('<span class="it">E</span><span class="sb">pPA-Solv</span>', 38, 190, 'up');
addText('10<span class="sp">-2</span>×<span class="it">E</span><span class="sb">pPA-Solv</span> [kJmol<span class="sp">-1</span>]', 38, 470, 'up');
addText('<span class="it">E</span><span class="sb">pPA-Solv</span>', 38, 752, 'up');

// legend box
const legend = document.createElement('div');
legend.id = 'legend';
runNames.forEach((n, k) => {
  const row = document.createElement('div');
  row.className = 'row';
  row.style.top = (5 + k * 35.4) + 'px';
  row.innerHTML = '<div class="key" style="background:' + runColors[k] + '"></div><div class="name">' + n + '</div>';
  legend.appendChild(row);
});
wrap.appendChild(legend);
</script>
</body>
</html>
